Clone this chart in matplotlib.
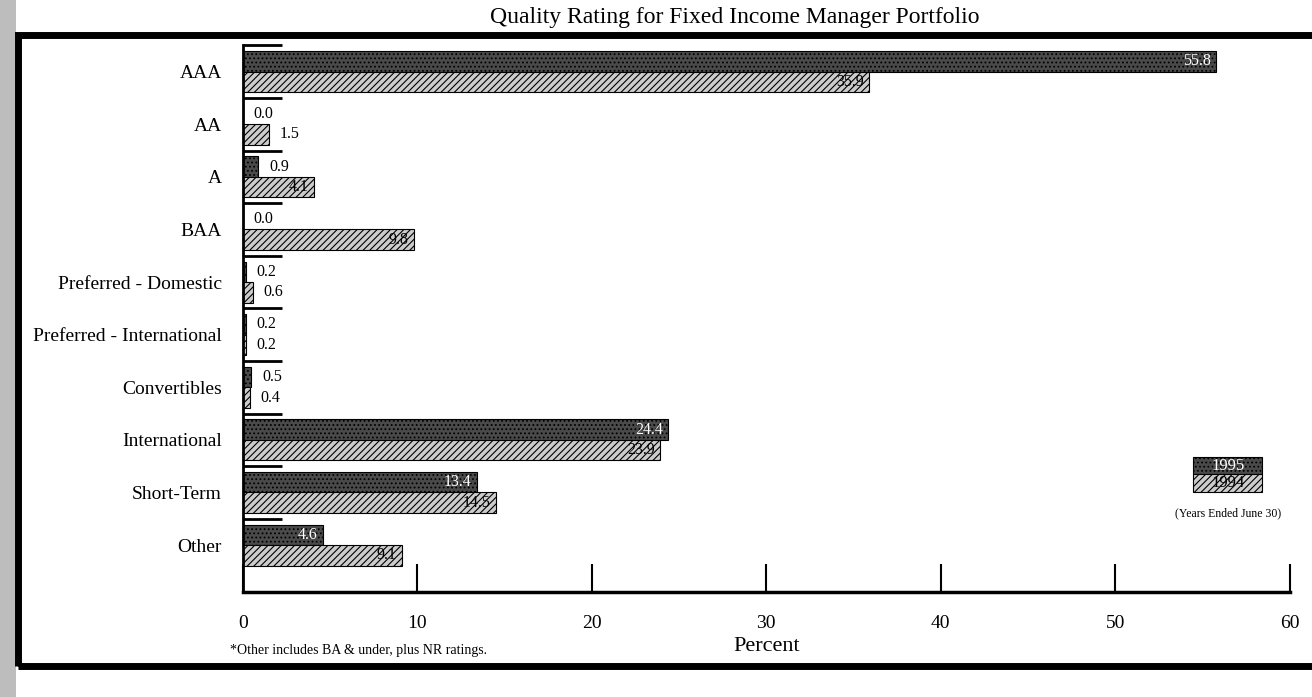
"""Quality rating bars for fixed income manager portfolio, 1995 vs 1994."""

import matplotlib
matplotlib.use("Agg")
import matplotlib.pyplot as plt
import numpy as np
from matplotlib.patches import Rectangle

plt.rcParams["font.family"] = ["Liberation Serif", "DejaVu Serif"]
plt.rcParams["hatch.linewidth"] = 0.8

categories = [
    "AAA", "AA", "A", "BAA", "Preferred - Domestic", "Preferred - International",
    "Convertibles", "International", "Short-Term", "Other",
]
values_1995 = [55.8, 0.0, 0.9, 0.0, 0.2, 0.2, 0.5, 24.4, 13.4, 4.6]
values_1994 = [35.9, 1.5, 4.1, 9.8, 0.6, 0.2, 0.4, 23.9, 14.5, 9.1]
x_ticks = [0, 10, 20, 30, 40, 50, 60]

DARK = "#4a4a4a"
LIGHT = "#cccccc"

fig = plt.figure(figsize=(13.12, 6.97), dpi=100)
ax = fig.add_axes([0.185, 0.15, 0.798, 0.785])

n = len(categories)
y = np.arange(n)
h = 0.39
ax.barh(y - h / 2, values_1995, height=h, color=DARK, edgecolor="black",
        linewidth=0.8, hatch="....")
ax.barh(y + h / 2, values_1994, height=h, color=LIGHT, edgecolor="black",
        linewidth=0.8, hatch="/////")

for yi, v in zip(y - h / 2, values_1995):
    if v > 3:
        ax.text(v - 0.3, yi, f"{v:.1f}", ha="right", va="center", color="white", fontsize=11.5)
    else:
        ax.text(v + 0.6, yi, f"{v:.1f}", ha="left", va="center", color="black", fontsize=11.5)
for yi, v in zip(y + h / 2, values_1994):
    if v > 3:
        ax.text(v - 0.3, yi, f"{v:.1f}", ha="right", va="center", color="black", fontsize=11.5)
    else:
        ax.text(v + 0.6, yi, f"{v:.1f}", ha="left", va="center", color="black", fontsize=11.5)

ax.set_xlim(0, 60)
ax.set_ylim(n - 0.5 + 0.4, -0.5)
ax.set_xticks(x_ticks)
ax.set_xticklabels([str(t) for t in x_ticks], fontsize=14)
ax.tick_params(axis="x", direction="in", length=20, width=1.5, pad=16)
ax.set_yticks(y)
ax.set_yticklabels(categories, fontsize=14)
ax.set_yticks(np.arange(n) - 0.5, minor=True)
ax.tick_params(axis="y", which="major", length=0, pad=15)
ax.tick_params(axis="y", which="minor", direction="in", length=28, width=2)
for side in ("top", "right"):
    ax.spines[side].set_visible(False)
ax.spines["left"].set_linewidth(2)
ax.spines["bottom"].set_linewidth(2.5)
ax.set_xlabel("Percent", fontsize=16, labelpad=4)

# legend box
lx, lw_, lh = 0.908, 0.066, 0.032
ax.add_patch(Rectangle((lx, 0.216), lw_, lh, transform=ax.transAxes, facecolor=DARK,
                       edgecolor="black", linewidth=0.8, hatch="....", clip_on=False))
ax.add_patch(Rectangle((lx, 0.184), lw_, lh, transform=ax.transAxes, facecolor=LIGHT,
                       edgecolor="black", linewidth=0.8, hatch="/////", clip_on=False))
ax.text(lx + lw_ / 2, 0.216 + lh / 2, "1995", transform=ax.transAxes, ha="center",
        va="center", color="white", fontsize=12)
ax.text(lx + lw_ / 2, 0.184 + lh / 2, "1994", transform=ax.transAxes, ha="center",
        va="center", color="black", fontsize=12)
ax.text(lx + lw_ / 2, 0.145, "(Years Ended June 30)", transform=ax.transAxes,
        ha="center", va="center", fontsize=8.5)

fig.text(0.175, 0.062, "*Other includes BA & under, plus NR ratings.", fontsize=10)
fig.text(0.56, 0.975, "Quality Rating for Fixed Income Manager Portfolio",
         ha="center", va="center", fontsize=17)

# page frame and scan edge
fig.add_artist(Rectangle((0.0, 0.0), 0.012, 1.0, transform=fig.transFigure,
                         facecolor="#bdbdbd", edgecolor="none"))
fig.add_artist(Rectangle((0.014, 0.045), 1.0, 0.905, transform=fig.transFigure,
                         facecolor="none", edgecolor="black", linewidth=5))

fig.savefig("out.png", dpi=100)
